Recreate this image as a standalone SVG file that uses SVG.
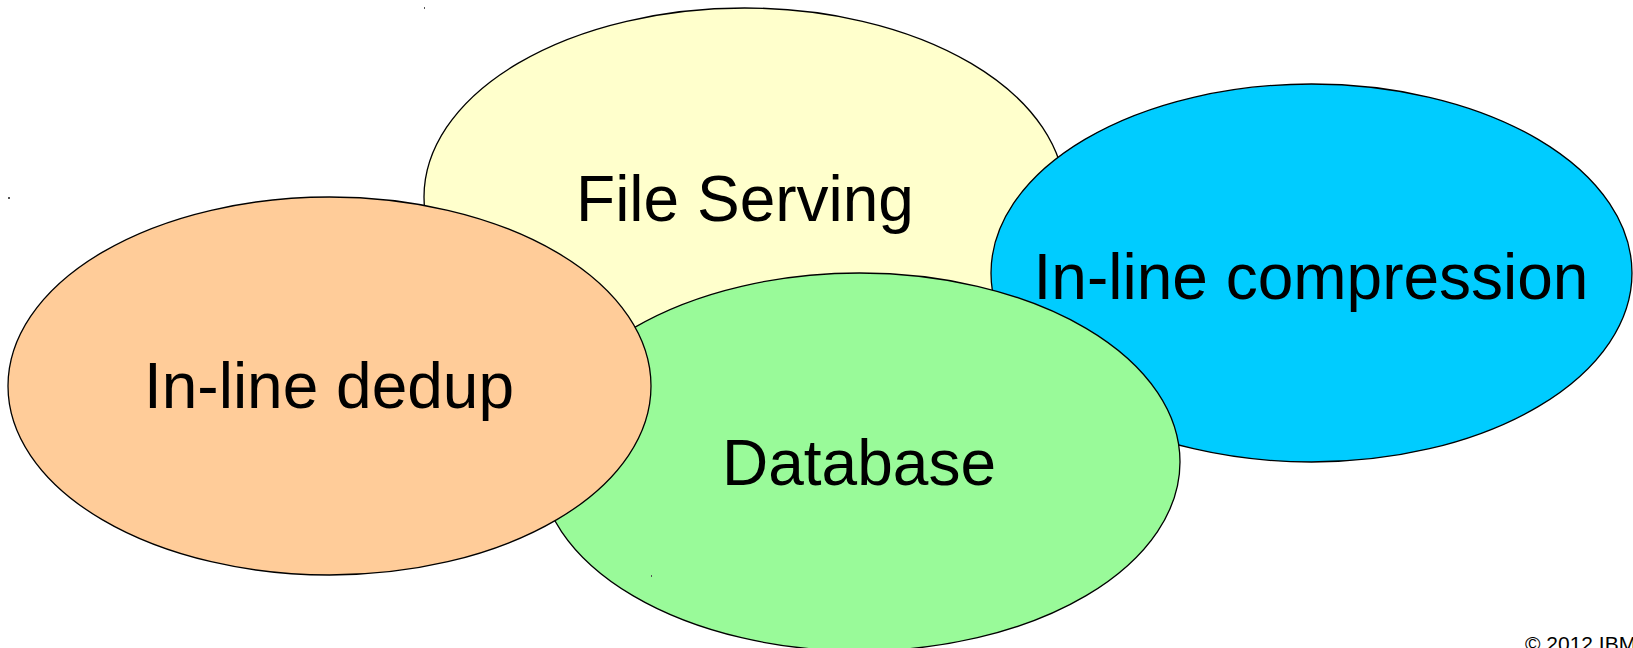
<svg xmlns="http://www.w3.org/2000/svg" width="1633" height="648" viewBox="0 0 1633 648">
  <style>
    .bubble { stroke: #000; stroke-width: 1.3; }
    .label { font-family: "Liberation Sans", Arial, sans-serif; font-size: 64px; fill: #000; text-anchor: middle; }
    .mark { fill: #555; }
    .copy { font-family: "Liberation Sans", Arial, sans-serif; font-size: 21px; fill: #000; }
  </style>
  <rect width="1633" height="648" fill="#fff"/>

  <!-- bounding-box corner marks -->
  <g id="marks">
    <rect class="mark" x="424" y="7" width="1" height="2"/>
    <rect class="mark" x="991" y="84" width="1" height="1"/>
    <rect class="mark" x="8" y="197" width="2" height="2"/>
  </g>

  <g id="file-serving">
    <ellipse class="bubble" cx="744.5" cy="197" rx="320.5" ry="189" fill="#ffffcc"/>
    <text class="label" x="745" y="221">File Serving</text>
  </g>

  <g id="inline-compression">
    <ellipse class="bubble" cx="1311.5" cy="273" rx="320.5" ry="189" fill="#00ccff"/>
    <text class="label" x="1311" y="299">In-line compression</text>
  </g>

  <g id="database">
    <ellipse class="bubble" cx="859.5" cy="462" rx="320.5" ry="189" fill="#99fa99"/>
    <rect class="mark" x="651" y="575" width="1" height="2"/>
    <text class="label" x="859" y="485">Database</text>
  </g>

  <g id="inline-dedup">
    <ellipse class="bubble" cx="329.5" cy="386" rx="321.5" ry="189" fill="#ffcc99"/>
    <text class="label" x="329" y="408">In-line dedup</text>
  </g>

  <g id="connectors"></g>

  <text class="copy" x="1525" y="651">© 2012 IBM</text>
</svg>
